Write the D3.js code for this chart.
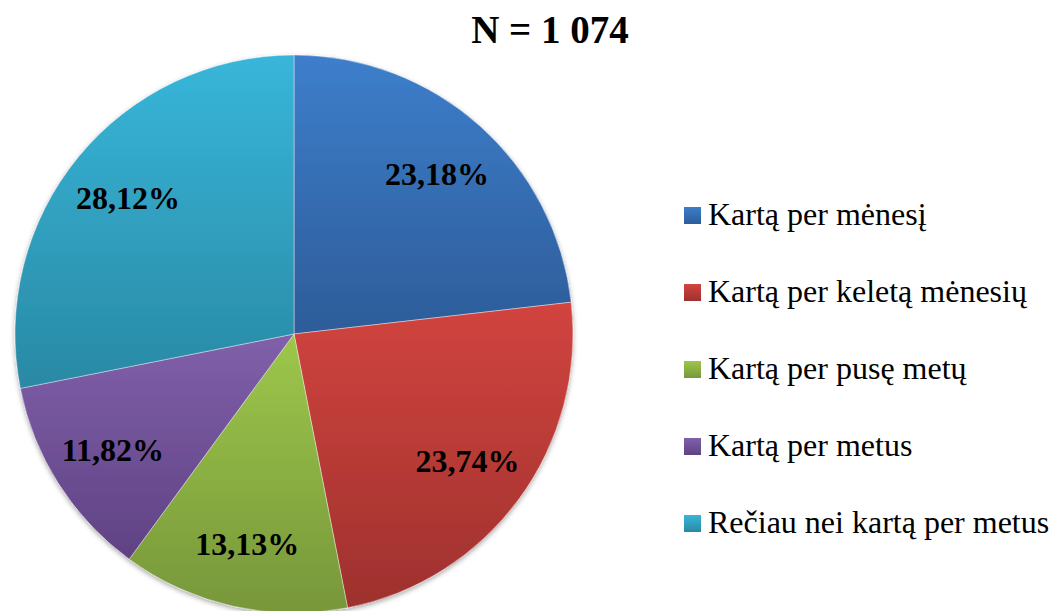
<!DOCTYPE html>
<html>
<head>
<meta charset="utf-8">
<script src="https://cdn.jsdelivr.net/npm/d3@7"></script>
<style>
  body { margin: 0; background: #fff; }
  svg { display: block; }
</style>
</head>
<body>
<svg width="1050" height="611"></svg>
<script>
const width = 1050;
const height = 611;

const categories = [
    "Kartą per mėnesį",
    "Kartą per keletą mėnesių",
    "Kartą per pusę metų",
    "Kartą per metus",
    "Rečiau nei kartą per metus"
];
const values = [23.18, 23.74, 13.13, 11.82, 28.12];
const labels = ["23,18%", "23,74%", "13,13%", "11,82%", "28,12%"];
const colorsTop = ["#3d7ecb", "#d2443f", "#9dc74b", "#8060aa", "#38b6da"];
const colorsBottom = ["#2d5c99", "#9e312e", "#77973a", "#5f4283", "#2989a4"];

const svg = d3.select("svg");
const font = "'Liberation Serif', 'Times New Roman', serif";

const cx = 294, cy = 334, r = 279;

const defs = svg.append("defs");
colorsTop.forEach((c, i) => {
    const g = defs.append("linearGradient")
        .attr("id", "grad" + i)
        .attr("x1", 0).attr("y1", 0).attr("x2", 0).attr("y2", 1);
    g.append("stop").attr("offset", "0%").attr("stop-color", c);
    g.append("stop").attr("offset", "100%").attr("stop-color", colorsBottom[i]);
});

const shadow = defs.append("filter").attr("id", "shadow")
    .attr("x", "-10%").attr("y", "-10%").attr("width", "120%").attr("height", "120%");
shadow.append("feDropShadow")
    .attr("dx", 0).attr("dy", 2).attr("stdDeviation", 2.5)
    .attr("flood-color", "#000").attr("flood-opacity", 0.35);

svg.append("text")
    .attr("x", 550)
    .attr("y", 43)
    .attr("text-anchor", "middle")
    .attr("font-family", font)
    .attr("font-weight", "bold")
    .attr("font-size", "39px")
    .text("N = 1 074");

const pie = d3.pie().sort(null).value(d => d);
const arcs = pie(values);
const arc = d3.arc().innerRadius(0).outerRadius(r);
// labels sit roughly three quarters of the way out
const labelArc = d3.arc().innerRadius(r * 0.77).outerRadius(r * 0.77);

const g = svg.append("g").attr("transform", `translate(${cx},${cy})`);

g.append("g")
    .attr("filter", "url(#shadow)")
    .selectAll("path")
    .data(arcs)
    .join("path")
    .attr("d", arc)
    .attr("fill", (d, i) => `url(#grad${i})`)
    .attr("stroke", "rgba(255,255,255,0.5)")
    .attr("stroke-width", 0.8);

g.append("g")
    .selectAll("text")
    .data(arcs)
    .join("text")
    .attr("x", d => labelArc.centroid(d)[0])
    .attr("y", d => labelArc.centroid(d)[1])
    .attr("dy", "0.35em")
    .attr("text-anchor", "middle")
    .attr("font-family", font)
    .attr("font-weight", "bold")
    .attr("font-size", "32px")
    .attr("fill", "#000")
    .text((d, i) => labels[i]);

const legendY = d3.scalePoint()
    .domain(categories)
    .range([215, 523]);

const legend = svg.append("g")
    .selectAll("g")
    .data(categories)
    .join("g")
    .attr("transform", d => `translate(684,${legendY(d)})`);

legend.append("rect")
    .attr("x", 0)
    .attr("y", -8)
    .attr("width", 17)
    .attr("height", 17)
    .attr("fill", (d, i) => `url(#grad${i})`);

legend.append("text")
    .attr("x", 24)
    .attr("y", 10)
    .attr("font-family", font)
    .attr("font-size", "32px")
    .attr("fill", "#000")
    .text(d => d);
</script>
</body>
</html>
